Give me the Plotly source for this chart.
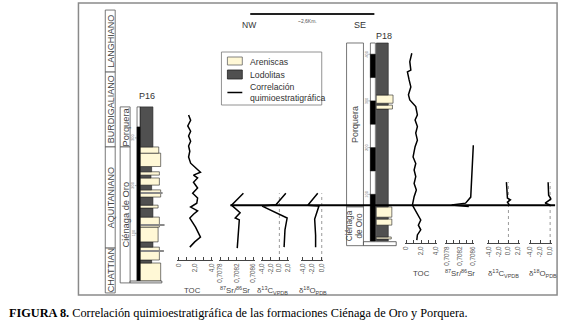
import plotly.graph_objects as go

W, H = 570, 325
SANS = "Liberation Sans"
SERIF = "Liberation Serif"
SAND = "#FFF8D6"
MUD = "#505050"
INK = "#333333"

# ---------------- DATA ----------------
# Chronostratigraphy (referred to P16 metres above base)
stage_names = ["LANGHIANO", "BURDIGALIANO", "AQUITANIANO", "CHATTIAN"]
stage_top_m = [568, 438, 281, 69]
stage_base_m = [438, 281, 69, -25]

# Formations
p16_form_names = ["Porquera", "Ciénaga de Oro"]
p16_form_top = [365, 281]
p16_form_base = [281, -4]
p18_form_names = ["Porquera", "Ciénaga<br>de Oro"]
p18_form_top = [424, 73]
p18_form_base = [73, -10]
p18_form_size = [9, 8.2]

# Lithology P16 (m above base) A = arenisca, L = lodolita
p16_bed_base = [0, 37.7, 44, 71, 82, 113, 134, 153, 159, 176, 191, 201, 216, 222, 229, 240, 268, 281]
p16_bed_top = [37.7, 44, 71, 82, 113, 134, 153, 159, 176, 191, 201, 216, 222, 229, 240, 268, 281, 365]
p16_bed_lith = ["A", "L", "A", "L", "A", "A", "L", "A", "L", "A", "L", "A", "L", "A", "L", "A", "A", "L"]
p16_bed_grain = [1.6, 0.9, 1.5, 1.0, 1.4, 1.5, 1.0, 1.4, 1.0, 1.6, 0.9, 1.5, 0.85, 1.5, 0.9, 1.6, 1.45, 1.0]
p16_marker_depth = [63, 117, 184]
p16_marker_grain = [1.85, 1.9, 1.75]

# Lithology P18
p18_bed_base = [0, 4.3, 8.6, 34, 47, 51, 73, 282.6, 291, 295, 312.6]
p18_bed_top = [4.3, 8.6, 34, 47, 51, 73, 282.6, 291, 295, 312.6, 424]
p18_bed_lith = ["L", "A", "L", "A", "L", "A", "L", "A", "L", "A", "L"]
p18_bed_grain = [1.0, 1.25, 1.0, 1.3, 1.0, 1.3, 1.0, 1.35, 1.0, 1.4, 1.0]

# Depth rulers
p16_ruler_black = [(0, 323)]
p16_ruler_top = 365
p16_ruler_ticks = [100, 200, 300]
p18_ruler_black = [(0, 100), (150, 200), (250, 300), (350, 400)]
p18_ruler_top = 424
p18_ruler_ticks = [100, 200, 300, 400]

# Chemostratigraphic correlation level (P16 metres)
corr_p16_m = 159

# Geochemical curves P16
p16_toc_depth = [348, 337, 325, 314, 304, 293, 283, 272, 260, 247, 228, 222, 216, 207, 195, 184, 174, 163, 155, 147, 140, 132, 113, 92, 82, 71]
p16_toc = [1.2, 1.45, 1.1, 1.45, 1.2, 1.45, 1.2, 1.35, 1.2, 1.45, 2.65, 1.8, 2.3, 1.8, 2.3, 1.7, 2.3, 2.2, 1.45, 2.3, 1.8, 1.35, 2.05, 2.65, 1.95, 1.35]
p16_sr_depth = [184, 159, 143, 132, 128, 96, 69]
p16_sr = [0.70836, 0.70807, 0.70828, 0.70816, 0.70826, 0.70824, 0.70821]
p16_c_depth = [184, 160, 157, 132, 107, 71]
p16_c = [1.5, -0.8, -4.0, 1.8, 1.3, 1.1]
p16_o_depth = [184, 159, 157, 130, 96, 71]
p16_o = [-0.85, -2.95, -0.6, -1.5, -1.3, -1.3]

# Geochemical curves P18
p18_toc_depth = [402, 384, 366, 362, 345, 330, 313, 302, 288, 270, 259, 245, 231, 216, 202, 180, 166, 152, 138, 123, 109, 95, 77, 63, 45, 34, 24, 13, 2]
p18_toc = [0.76, 0.49, 0.63, 0.17, 0.4, 0.63, 0.31, 0.49, 1.29, 1.51, 1.2, 1.51, 1.29, 1.51, 1.2, 0.93, 1.29, 1.07, 1.29, 1.07, 1.37, 1.07, 0.84, 1.29, 1.96, 1.64, 1.96, 1.51, 1.43]
p18_sr_depth = [205, 173, 94, 81, 77, 74]
p18_sr = [0.70862, 0.70860, 0.70854, 0.70838, 0.70795, 0.70848]
p18_c_depth = [126, 98, 92, 88, 83, 77]
p18_c = [-0.4, -0.3, -0.2, 0.4, -0.2, 0.2]
p18_o_depth = [126, 98, 90, 81, 77]
p18_o = [-0.4, -0.3, 0.2, -1.0, 0.0]

# Track ticks (labelled + unlabelled minor)
toc_ticks = [0, 2, 4]
toc_text = ["0", "2,0", "4,0"]
toc_minor = [1, 3]
sr_ticks = [0.7078, 0.7082, 0.7086]
sr_text = ["0,7078", "0,7082", "0,7086"]
sr_minor = [0.7080, 0.7084]
c_ticks = [-4, -2, 0, 2]
c_text = ["-4,0", "-2,0", "0,0", "2,0"]
o_ticks = [-4, -2, 0]
o_text = ["-4,0", "-2,0", "0,0"]

track_titles = ["TOC", "<sup>87</sup>Sr/<sup>86</sup>Sr", "δ<sup>13</sup>C<sub>VPDB</sub>", "δ<sup>18</sup>O<sub>PDB</sub>"]

# ---------------- LAYOUT HELPERS ----------------
P16_BASE, P16_PPM = 281, 0.477
P18_BASE, P18_PPM = 241, 0.467


def X(px):
    return px / W


def Y(py):
    return 1 - py / H


def depth_axis(base, ppm, pb, pt, anchor):
    return dict(domain=[Y(pb), Y(pt)], range=[(base - pb) / ppm, (base - pt) / ppm],
                visible=False, fixedrange=True, anchor=anchor)


def lith_axis(px0, ppu, anchor):
    return dict(domain=[0, 1], range=[-px0 / ppu, (W - px0) / ppu], visible=False,
                fixedrange=True, anchor=anchor)


def track_axis(px0, px1, v0, v1, tv, tt, anchor, minor=None, pad=1.5):
    k = (v1 - v0) / (px1 - px0)
    ax = dict(domain=[X(px0 - pad), X(px1 + pad)], range=[v0 - pad * k, v1 + pad * k],
              anchor=anchor, tickmode="array", tickvals=tv, ticktext=tt, showline=True,
              linecolor="#444", linewidth=1, ticks="inside", ticklen=3, tickcolor="#444",
              tickwidth=1, tickangle=-90, tickfont=dict(size=6.3, color="#555", family=SANS),
              showgrid=False, zeroline=False, fixedrange=True)
    if minor:
        ax["minor"] = dict(tickmode="array", tickvals=minor, ticks="inside", ticklen=3,
                           tickcolor="#444", tickwidth=1, showgrid=False)
    return ax


fig = go.Figure()


def beds(base, top, lith, grain, xa, ya):
    mids = [(b + t) / 2 for b, t in zip(base, top)]
    th = [t - b for b, t in zip(base, top)]
    cols = [SAND if l == "A" else MUD for l in lith]
    fig.add_trace(go.Bar(x=grain, y=mids, width=th, base=0, orientation="h",
                         marker=dict(color=cols, line=dict(color="#222", width=0.6)),
                         xaxis=xa, yaxis=ya, hoverinfo="skip", showlegend=False))


beds(p16_bed_base, p16_bed_top, p16_bed_lith, p16_bed_grain, "x", "y")
fig.add_trace(go.Bar(x=p16_marker_grain, y=p16_marker_depth, width=1.3, base=0, orientation="h",
                     marker=dict(color="#8a8a8a", line=dict(width=0)), xaxis="x", yaxis="y",
                     hoverinfo="skip", showlegend=False))
beds(p18_bed_base, p18_bed_top, p18_bed_lith, p18_bed_grain, "x2", "y2")

curves = [
    (p16_toc, p16_toc_depth, "x3", "y3"), (p16_sr, p16_sr_depth, "x4", "y3"),
    (p16_c, p16_c_depth, "x5", "y3"), (p16_o, p16_o_depth, "x6", "y3"),
    (p18_toc, p18_toc_depth, "x7", "y4"), (p18_sr, p18_sr_depth, "x8", "y4"),
    (p18_c, p18_c_depth, "x9", "y4"), (p18_o, p18_o_depth, "x10", "y4"),
]
for xs, ys, xa, ya in curves:
    fig.add_trace(go.Scatter(x=xs, y=ys, mode="lines", line=dict(color="black", width=1.5),
                             xaxis=xa, yaxis=ya, hoverinfo="skip", showlegend=False))

y3 = depth_axis(P16_BASE, P16_PPM, 260, 100, "x3")
y4 = depth_axis(P18_BASE, P18_PPM, 243, 40, "x7")

layout_axes = dict(
    xaxis=lith_axis(139, 13, "y"),
    yaxis=depth_axis(P16_BASE, P16_PPM, H, 0, "x"),
    xaxis2=lith_axis(377, 12, "y2"),
    yaxis2=depth_axis(P18_BASE, P18_PPM, H, 0, "x2"),
    yaxis3=y3, yaxis4=y4,
    xaxis3=track_axis(178, 211, 0, 4, toc_ticks, toc_text, "y3", toc_minor),
    xaxis4=track_axis(220, 253, 0.7078, 0.7086, sr_ticks, sr_text, "y3", sr_minor),
    xaxis5=track_axis(262, 288, -4, 2, c_ticks, c_text, "y3"),
    xaxis6=track_axis(303, 322, -4, 0, o_ticks, o_text, "y3"),
    xaxis7=track_axis(407, 437, 0, 4, toc_ticks, toc_text, "y4", toc_minor),
    xaxis8=track_axis(448, 474, 0.7078, 0.7086, sr_ticks, sr_text, "y4", sr_minor),
    xaxis9=track_axis(490, 520, -4, 2, c_ticks, c_text, "y4"),
    xaxis10=track_axis(532, 552, -4, 0, o_ticks, o_text, "y4"),
)

shapes = []
anns = []


def ann(text, px, y, size=8, color=INK, angle=0, xanchor="center", yanchor="middle",
        family=SANS, yref="paper"):
    anns.append(dict(text=text, x=X(px), xref="paper", y=Y(y) if yref == "paper" else y,
                     yref=yref, showarrow=False, textangle=angle, xanchor=xanchor,
                     yanchor=yanchor, font=dict(size=size, color=color, family=family)))


def rect_px(x0, x1, y0, y1, yref, fill="white", lc="#444", lw=0.8, layer="above"):
    if yref == "paper":
        y0, y1 = Y(y0), Y(y1)
    shapes.append(dict(type="rect", xref="paper", yref=yref, x0=X(x0), x1=X(x1), y0=y0, y1=y1,
                       fillcolor=fill, line=dict(color=lc, width=lw), layer=layer))


# frame
shapes.append(dict(type="rect", xref="paper", yref="paper", x0=X(77), x1=X(559), y0=Y(295), y1=Y(3),
                   line=dict(color="#8a8a8a", width=1.5), fillcolor="rgba(0,0,0,0)", layer="below"))

# stages
for n, t, b in zip(stage_names, stage_top_m, stage_base_m):
    rect_px(104, 114, b, t, "y", lc="#555")
    ann(n, 109.5, (t + b) / 2, size=9, color="#444", angle=-90, yref="y")

# P16 column frame
for n, t, b in zip(p16_form_names, p16_form_top, p16_form_base):
    rect_px(119, 129, b, t, "y", lc="#555")
    ann(n, 124.5, (t + b) / 2, size=9.3, color="#444", angle=-90, yref="y")
rect_px(136, 139, 0, p16_ruler_top, "y", lc="#222", lw=0.6)
for b, t in p16_ruler_black:
    rect_px(136, 139, b, t, "y", fill="black", lc="black", lw=0.5)
for tk in p16_ruler_ticks:
    shapes.append(dict(type="line", xref="paper", yref="y", x0=X(134), x1=X(136), y0=tk, y1=tk,
                       line=dict(color="#666", width=0.6)))
    ann(str(tk), 132, tk, size=4, color="#777", angle=-90, yref="y")
rect_px(129, 161, -4, 0, "y", lc="#444", lw=0.8)
ann("P16", 146, 96, size=9)

# P18 column frame
for n, t, b, s in zip(p18_form_names, p18_form_top, p18_form_base, p18_form_size):
    rect_px(347, 364, b, t, "y2", lc="#555")
    ann(n, 355.5, (t + b) / 2, size=s, color="#444", angle=-90, yref="y2")
rect_px(371, 376, 0, p18_ruler_top, "y2", lc="#222", lw=0.6)
for b, t in p18_ruler_black:
    rect_px(371, 376, b, t, "y2", fill="black", lc="black", lw=0.5)
for tk in p18_ruler_ticks:
    shapes.append(dict(type="line", xref="paper", yref="y2", x0=X(369), x1=X(371), y0=tk, y1=tk,
                       line=dict(color="#666", width=0.6)))
    ann(str(tk), 367, tk, size=4, color="#777", angle=-90, yref="y2")
rect_px(364, 397, -10, -1.5, "y2", lc="#444", lw=0.8)
ann("P18", 385, 36, size=9)

# dotted zero lines
for xa, ya, top, bot in [("x5", "y3", 184, y3["range"][0]), ("x6", "y3", 184, y3["range"][0]),
                          ("x9", "y4", 126, y4["range"][0]), ("x10", "y4", 126, y4["range"][0])]:
    shapes.append(dict(type="line", xref=xa, yref=ya, x0=0, x1=0, y0=bot, y1=top,
                       line=dict(color="#9a9a9a", width=1, dash="dot"), layer="below"))

# correlation line
shapes.append(dict(type="line", xref="paper", yref="y", x0=X(230), x1=X(557), y0=corr_p16_m,
                   y1=corr_p16_m, line=dict(color="black", width=2)))

# legend
rect_px(221, 322, 105, 52, "paper", fill="white", lc="#777", lw=0.8)
rect_px(227, 242, 65, 57, "paper", fill=SAND, lc="#666", lw=0.8)
rect_px(227, 242, 79, 70, "paper", fill=MUD, lc="#222", lw=0.8)
shapes.append(dict(type="line", xref="paper", yref="paper", x0=X(227), x1=X(242), y0=Y(92.5), y1=Y(92.5),
                   line=dict(color="black", width=1.5)))
ann("Areniscas", 247.5, 62.5, size=8.7, xanchor="left")
ann("Lodolitas", 247.5, 75, size=8.7, xanchor="left")
ann("Correlación", 247.5, 87.5, size=8.7, xanchor="left")
ann("quimioestratigráfica", 247.5, 98, size=8.7, xanchor="left")

# scale bar
shapes.append(dict(type="line", xref="paper", yref="paper", x0=X(250), x1=X(375), y0=Y(14), y1=Y(14),
                   line=dict(color="#222", width=2)))
ann("NW", 249, 25, size=8.5)
ann("~2,6Km.", 308, 21, size=5, color="#555")
ann("SE", 361, 25, size=9)

# track titles
for t, px in zip(track_titles, [192, 235, 272, 313]):
    ann(t, px, 290, size=7.8, color="#444")
for t, px in zip(track_titles, [422, 461, 505, 545]):
    ann(t, px, 273, size=7.8, color="#444")

# caption
ann("<b>FIGURA 8.</b> Correlación quimioestratigráfica de las formaciones Ciénaga de Oro y Porquera.",
    5, 313, size=12.3, color="black", xanchor="left", family=SERIF)

fig.update_layout(width=W, height=H, margin=dict(l=0, r=0, t=0, b=0), paper_bgcolor="white",
                  plot_bgcolor="rgba(0,0,0,0)", showlegend=False, barmode="overlay",
                  shapes=shapes, annotations=anns, **layout_axes)

fig.write_html("out.html", config={"displayModeBar": False},
               post_script="document.body.style.margin='0';document.body.style.overflow='hidden';")
